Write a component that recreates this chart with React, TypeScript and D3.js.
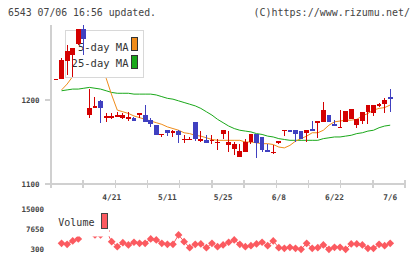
import React from "react"
import * as d3 from "d3"

// candles, 2020/4/7 .. 7/6 (61 trading days)
const opens = [1225, 1225, 1247, 1254, 1267, 1284, 1182, 1191, 1199, 1179, 1179, 1180, 1179, 1177, 1179, 1182, 1182, 1176, 1170, 1158, 1164, 1161, 1163, 1153, 1153, 1174, 1151, 1152, 1151, 1149, 1159, 1146, 1142, 1132, 1138, 1150, 1160, 1156, 1140, 1137, 1149, 1163, 1164, 1164, 1163, 1161, 1165, 1173, 1174, 1182, 1171, 1167, 1174, 1177, 1170, 1175, 1186, 1185, 1193, 1195, 1203]
const highs = [1225, 1250, 1266, 1262, 1285, 1289, 1213, 1203, 1200, 1184, 1185, 1186, 1184, 1186, 1180, 1185, 1194, 1178, 1170, 1160, 1164, 1164, 1164, 1158, 1156, 1174, 1163, 1158, 1158, 1153, 1164, 1163, 1150, 1148, 1153, 1160, 1160, 1156, 1148, 1146, 1151, 1164, 1164, 1164, 1163, 1164, 1175, 1175, 1198, 1182, 1176, 1188, 1187, 1189, 1177, 1186, 1194, 1194, 1197, 1202, 1213]
const lows = [1225, 1225, 1230, 1227, 1265, 1254, 1179, 1190, 1173, 1174, 1177, 1180, 1177, 1175, 1175, 1178, 1174, 1168, 1158, 1156, 1157, 1156, 1149, 1149, 1152, 1151, 1150, 1149, 1148, 1140, 1154, 1138, 1134, 1132, 1138, 1148, 1131, 1138, 1138, 1136, 1148, 1157, 1162, 1150, 1154, 1150, 1163, 1155, 1174, 1174, 1169, 1167, 1174, 1177, 1167, 1171, 1171, 1181, 1192, 1184, 1186]
const closes = [1225, 1248, 1258, 1262, 1285, 1273, 1191, 1193, 1191, 1181, 1181, 1182, 1182, 1180, 1175, 1185, 1174, 1171, 1158, 1160, 1161, 1163, 1158, 1154, 1154, 1153, 1154, 1149, 1152, 1150, 1164, 1150, 1148, 1139, 1150, 1160, 1149, 1140, 1138, 1138, 1151, 1164, 1162, 1160, 1154, 1164, 1163, 1175, 1188, 1174, 1169, 1168, 1187, 1189, 1177, 1186, 1194, 1194, 1195, 1200, 1201]

const ma5 = [null, 1212, 1219, 1228, 1240, 1253, 1253, 1245, 1240, 1226, 1206, 1188, 1186, 1184, 1181, 1179, 1177, 1175, 1173, 1171, 1168, 1166, 1164, 1161, 1160, 1158, 1157, 1155, 1153, 1152, 1152, 1152, 1152, 1152, 1150, 1150, 1149, 1148, 1148, 1147, 1144, 1143, 1146, 1151, 1154, 1157, 1161, 1161, 1164, 1170, 1174, 1175, 1176, 1176, 1177, 1181, 1184, 1188, 1190, 1191, 1194]
const ma25 = [null, 1211, 1212, 1213, 1213, 1214, 1215, 1214, 1213, 1211, 1209, 1208, 1208, 1208, 1207, 1207, 1207, 1207, 1206, 1204, 1202, 1201, 1199, 1197, 1195, 1193, 1190, 1186, 1182, 1177, 1173, 1169, 1166, 1164, 1163, 1162, 1160, 1159, 1157, 1156, 1154, 1153, 1152, 1152, 1152, 1152, 1152, 1152, 1154, 1155, 1156, 1156, 1157, 1158, 1160, 1161, 1163, 1164, 1167, 1169, 1170]

const volumes = [null, 2520, 2150, 3370, 4110, 9300, 8200, 5600, 5600, 7000, 3110, 1260, 2740, 1890, 2890, 2520, 2520, 4110, 3740, 2520, 2150, 2150, 5590, 3110, 890, 2150, 2260, 890, 2520, 1260, 1890, 2890, 3740, 2150, 1260, 1630, 2260, 2890, 1630, 3370, 890, 670, 1040, 670, 300, 2520, 670, 890, 1890, 300, 1040, 1040, 300, 2260, 2260, 1890, 670, 670, 2150, 1630, 2520]

const dateLabels = ["4/21", "5/11", "5/25", "6/8", "6/22", "7/6"]
const dateIdx = [10, 20, 30, 40, 50, 60]
const priceTicks = [1100, 1200]
const volTicks = [300, 7650, 15000]

const UP = "#d40000"
const DOWN = "#4040c0"
const MA5C = "#f08c1a"
const MA25C = "#1aa81a"
const VOLC = "#fb5a60"
const AXIS = "#d0d0d0"
const TXT = "#444"
const MONO = "'DejaVu Sans Mono', monospace"

export default function App() {
  const x = d3.scaleLinear().domain([0, opens.length - 1]).range([56, 390.2])
  const y = d3.scaleLinear().domain([1100, 1200]).range([184, 100])
  const yv = d3.scaleLinear().domain([300, 15000]).range([249.3, 209.3])
  const gridX = d3.range(12).map(k => 51 + k * 354 / 11)

  const maLine = d3.line<number | null>()
    .defined(d => d != null)
    .x((d, i) => x(i))
    .y(d => y(d as number))
  const volLine = d3.line<number | null>()
    .defined(d => d != null)
    .x((d, i) => x(i))
    .y(d => yv(d as number))
  const diamond = d3.symbol().type(d3.symbolSquare).size(30)()

  const bw = 4.8

  return (
    <svg width={420} height={259} style={{ position: "absolute", left: 0, top: 0, background: "#fff" }}
      fontFamily={MONO}>
      {/* header */}
      <text x={8} y={16} fontSize={10} fill={TXT} textLength={148} lengthAdjust="spacingAndGlyphs">6543 07/06 16:56 updated.</text>
      <text x={410} y={16} fontSize={10} fill={TXT} textAnchor="end">(C)https://www.rizumu.net/</text>

      {/* axes */}
      <g shapeRendering="crispEdges" stroke={AXIS} strokeWidth={1.5}>
        <line x1={51} x2={51} y1={25} y2={184} />
        <line x1={51} x2={405} y1={184} y2={184} />
        {gridX.map((gx, k) => <line key={k} x1={gx} x2={gx} y1={180} y2={188} />)}
        {priceTicks.map(t => <line key={t} x1={45} x2={51} y1={y(t)} y2={y(t)} />)}
      </g>
      {priceTicks.map(t => (
        <text key={t} x={39.5} y={y(t) + 2.6} fontSize={7.5} fontWeight="bold" fill={TXT} textAnchor="end">{t}</text>
      ))}
      {dateIdx.map((di, k) => (
        <text key={k} x={x(di)} y={199.7} fontSize={7.8} fontWeight="bold" fill={TXT} textAnchor="middle">{dateLabels[k]}</text>
      ))}

      {/* moving averages */}
      <path d={maLine(ma25) || ""} fill="none" stroke={MA25C} strokeWidth={1} />
      <path d={maLine(ma5) || ""} fill="none" stroke={MA5C} strokeWidth={1} />

      {/* legend */}
      <rect x={65} y={30} width={78.5} height={47.3} fill="#fff" stroke="#d8d8d8" strokeWidth={1} shapeRendering="crispEdges" />
      <text x={128.5} y={50.5} fontSize={10.5} fill="#333" textAnchor="end">5-day MA</text>
      <text x={128.5} y={67} fontSize={10.5} fill="#333" textAnchor="end">25-day MA</text>
      <rect x={131.5} y={37.5} width={5.5} height={13} fill={MA5C} stroke="#333" strokeWidth={1} shapeRendering="crispEdges" />
      <rect x={131.5} y={55} width={5.5} height={13.5} fill={MA25C} stroke="#333" strokeWidth={1} shapeRendering="crispEdges" />

      {/* candles */}
      <g shapeRendering="crispEdges">
        {opens.map((o, i) => {
          const c = closes[i]
          const col = c >= o ? UP : DOWN
          const top = y(Math.max(o, c))
          const h = Math.max(1, y(Math.min(o, c)) - top)
          return (
            <g key={i}>
              <line x1={x(i)} x2={x(i)} y1={y(highs[i])} y2={y(lows[i])} stroke={col} strokeWidth={1} />
              <rect x={x(i) - bw / 2} y={top} width={bw} height={h} fill={col} />
            </g>
          )
        })}
      </g>

      {/* volume */}
      <path d={volLine(volumes) || ""} fill="none" stroke={VOLC} strokeWidth={1} />
      {volumes.map((v, i) => v == null ? null : (
        <path key={i} d={diamond || ""} transform={`translate(${x(i)},${yv(v)}) rotate(45)`} fill={VOLC} />
      ))}
      <rect x={54} y={204} width={55} height={32.5} fill="#fff" />
      <text x={58.3} y={226} fontSize={10} fill="#333">Volume</text>
      <rect x={101.5} y={213.5} width={6} height={14.5} fill={VOLC} stroke="#444" strokeWidth={1} shapeRendering="crispEdges" />
      {volTicks.map(t => (
        <text key={t} x={44} y={yv(t) + 2.6} fontSize={7.5} fontWeight="bold" fill={TXT} textAnchor="end">{t}</text>
      ))}
    </svg>
  )
}
